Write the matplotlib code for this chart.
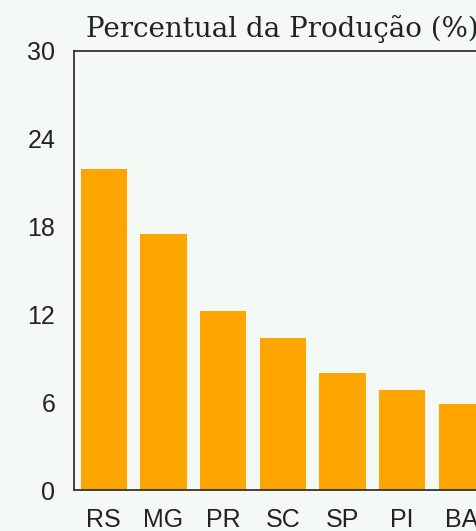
import matplotlib
matplotlib.use('Agg')
import matplotlib.pyplot as plt

# estados e percentual da producao
estados = ['RS', 'MG', 'PR', 'SC', 'SP', 'PI', 'BA']
percentual = [21.9, 17.5, 12.2, 10.4, 8.0, 6.8, 5.9]
yticks = [0, 6, 12, 18, 24, 30]

bg = '#f5f9f5'
fig = plt.figure(figsize=(4.77, 5.31), dpi=100, facecolor=bg)
# eixo vai alem da borda direita (grafico cortado na referencia)
ax = fig.add_axes([74/477, 41/531, 417.7/477, 439.3/531], facecolor=bg)

x = list(range(len(estados)))
ax.bar(x, percentual, width=0.78, color='#ffa500')

ax.set_xlim(-0.5, 6.5)
ax.set_ylim(0, 30)
ax.set_yticks(yticks)
ax.set_xticks(x)
ax.set_xticklabels(estados)
ax.tick_params(length=0, labelsize=18, colors='#222222')
ax.tick_params(axis='y', pad=13.5)
ax.tick_params(axis='x', pad=13)
for lab in ax.get_xticklabels() + ax.get_yticklabels():
    lab.set_family('Liberation Sans')
for s in ax.spines.values():
    s.set_color('#333333')
    s.set_linewidth(1.3)

fig.text(86/477, 1 - 37/531, 'Percentual da Produção (%)', family='DejaVu Serif',
         fontsize=20, color='#222222', va='baseline', ha='left')

plt.savefig('out.png', dpi=100, facecolor=bg)
